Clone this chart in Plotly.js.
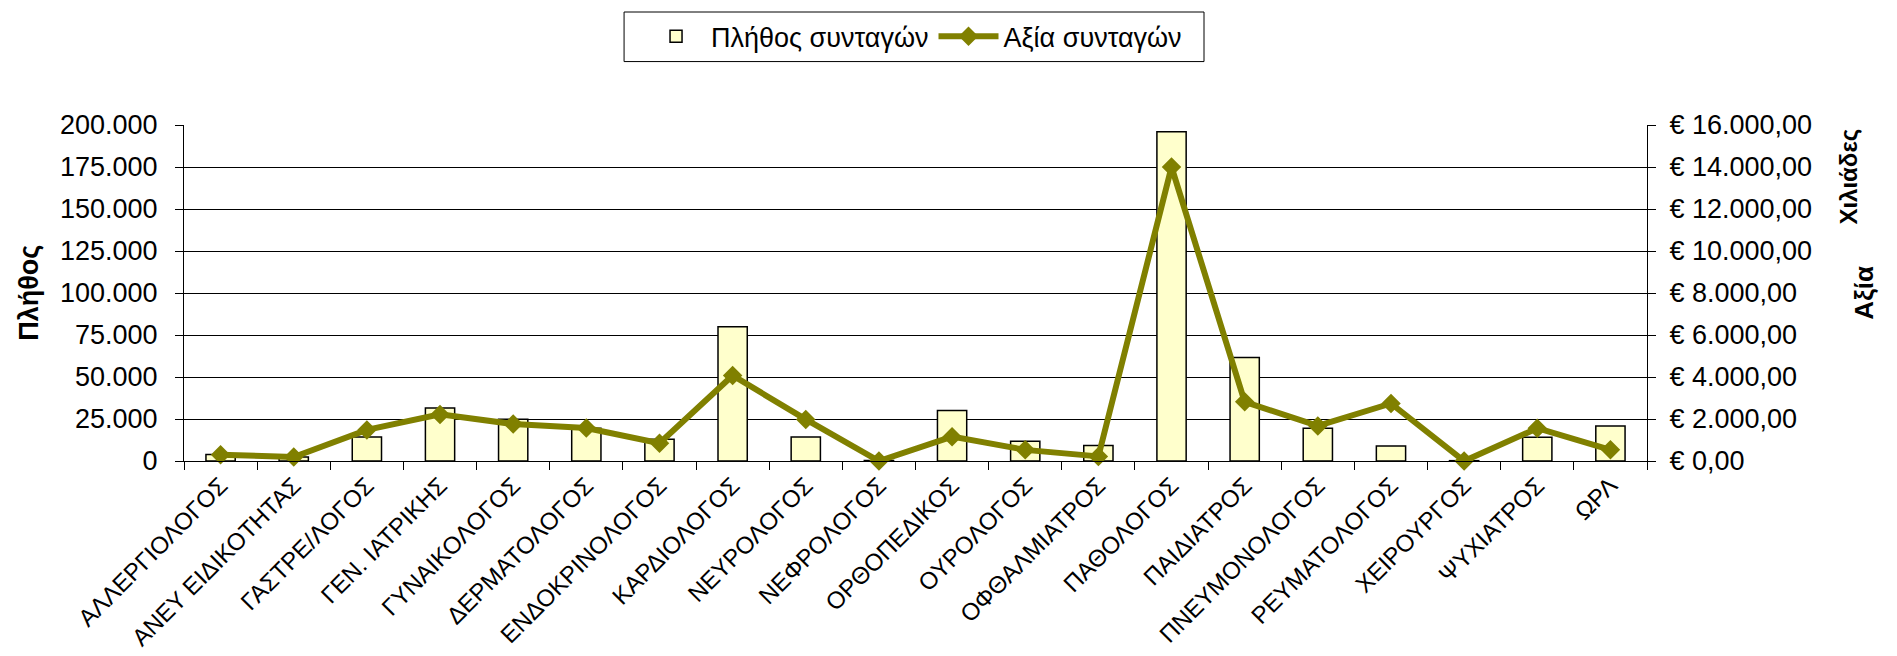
<!DOCTYPE html>
<html>
<head>
<meta charset="utf-8">
<script src="https://cdn.plot.ly/plotly-3.0.1.min.js"></script>
<style>html,body{margin:0;padding:0;background:#fff;}#chart{width:1897px;height:656px;}</style>
</head>
<body>
<div id="chart"></div>
<script>
const categories = ["ΑΛΛΕΡΓΙΟΛΟΓΟΣ","ΑΝΕΥ ΕΙΔΙΚΟΤΗΤΑΣ","ΓΑΣΤΡΕ/ΛΟΓΟΣ","ΓΕΝ. ΙΑΤΡΙΚΗΣ","ΓΥΝΑΙΚΟΛΟΓΟΣ","ΔΕΡΜΑΤΟΛΟΓΟΣ","ΕΝΔΟΚΡΙΝΟΛΟΓΟΣ","ΚΑΡΔΙΟΛΟΓΟΣ","ΝΕΥΡΟΛΟΓΟΣ","ΝΕΦΡΟΛΟΓΟΣ","ΟΡΘΟΠΕΔΙΚΟΣ","ΟΥΡΟΛΟΓΟΣ","ΟΦΘΑΛΜΙΑΤΡΟΣ","ΠΑΘΟΛΟΓΟΣ","ΠΑΙΔΙΑΤΡΟΣ","ΠΝΕΥΜΟΝΟΛΟΓΟΣ","ΡΕΥΜΑΤΟΛΟΓΟΣ","ΧΕΙΡΟΥΡΓΟΣ","ΨΥΧΙΑΤΡΟΣ","ΩΡΛ"];
const prescriptionCount = [3900, 2400, 14300, 31500, 24800, 19500, 13000, 79900, 14300, 300, 30100, 11800, 9200, 196000, 61600, 19500, 9000, 200, 14200, 20900];
const prescriptionValue = [300, 190, 1480, 2220, 1760, 1570, 850, 4070, 1980, 0, 1160, 530, 220, 14000, 2820, 1670, 2740, 0, 1560, 530];
const countTicks = [0, 25000, 50000, 75000, 100000, 125000, 150000, 175000, 200000];
const valueTicks = [0, 2000, 4000, 6000, 8000, 10000, 12000, 14000, 16000];

function grThousands(n) {
  return String(Math.round(n)).replace(/\B(?=(\d{3})+(?!\d))/g, ".");
}
const countTickText = countTicks.map(v => grThousands(v));
const valueTickText = valueTicks.map(v => "€ " + grThousands(Math.floor(v)) + ",00");

const olive = "#808000";
const font = "Arial, 'Liberation Sans', sans-serif";

const traces = [
  {
    type: "bar", name: "Πλήθος συνταγών", x: categories, y: prescriptionCount,
    marker: {color: "#FFFFCC", line: {color: "#000", width: 1.5}},
    yaxis: "y"
  },
  {
    type: "scatter", mode: "lines+markers", name: "Αξία συνταγών", x: categories, y: prescriptionValue,
    line: {color: olive, width: 6}, marker: {symbol: "diamond", size: 15, color: olive},
    yaxis: "y2", cliponaxis: false
  }
];

const layout = {
  width: 1897, height: 656,
  margin: {l: 184, r: 250, t: 122, b: 195, pad: 0},
  paper_bgcolor: "#fff", plot_bgcolor: "#fff",
  font: {family: font, size: 26, color: "#000"},
  bargap: 0.6,
  showlegend: true,
  legend: {
    orientation: "h", x: 0.499, xanchor: "center", y: 1.2625, yanchor: "middle",
    borderwidth: 0, bgcolor: "rgba(0,0,0,0)", font: {family: font, size: 27, color: "#000"},
    itemwidth: 60, tracegroupgap: 0
  },
  shapes: [
    {type: "rect", xref: "paper", yref: "paper", x0: 0.3008, x1: 0.6972, y0: 1.1888, y1: 1.3363,
     line: {color: "#000", width: 1}, fillcolor: "rgba(0,0,0,0)", layer: "below"}
  ],
  xaxis: {
    type: "category", range: [-0.5, 19.5], automargin: false, tickangle: -45,
    tickfont: {family: font, size: 24, color: "#000"},
    ticks: "outside", tickson: "boundaries", ticklen: 8, tickcolor: "#000",
    showline: true, linecolor: "#000", linewidth: 1, showgrid: false, zeroline: false
  },
  yaxis: {
    range: [0, 200000], tickmode: "array", tickvals: countTicks, ticktext: countTickText, automargin: false,
    ticks: "outside", ticklen: 8, tickcolor: "#000", ticklabelstandoff: 12,
    showline: true, linecolor: "#000", linewidth: 1,
    showgrid: true, gridcolor: "#000", gridwidth: 1, zeroline: false,
    tickfont: {family: font, size: 27, color: "#000"}
  },
  yaxis2: {
    overlaying: "y", side: "right", range: [0, 16000], tickmode: "array", tickvals: valueTicks, ticktext: valueTickText,
    automargin: false, ticks: "outside", ticklen: 8, tickcolor: "#000", ticklabelstandoff: 8,
    showline: true, linecolor: "#000", linewidth: 1, showgrid: false, zeroline: false,
    tickfont: {family: font, size: 27, color: "#000"}
  },
  annotations: [
    {text: "<b>Πλήθος</b>", xref: "paper", yref: "paper", x: -0.1059, y: 0.501, xanchor: "center", yanchor: "middle",
     textangle: -90, showarrow: false, font: {family: font, size: 27, color: "#000"}},
    {text: "<b>Αξία</b>", xref: "paper", yref: "paper", x: 1.1483, y: 0.501, xanchor: "center", yanchor: "middle",
     textangle: -90, showarrow: false, font: {family: font, size: 26, color: "#000"}},
    {text: "<b>Χιλιάδες</b>", xref: "paper", yref: "paper", x: 1.1381, y: 0.8466, xanchor: "center", yanchor: "middle",
     textangle: -90, showarrow: false, font: {family: font, size: 24, color: "#000"}}
  ]
};

Plotly.newPlot("chart", traces, layout, {displayModeBar: false, staticPlot: true});
</script>
</body>
</html>
